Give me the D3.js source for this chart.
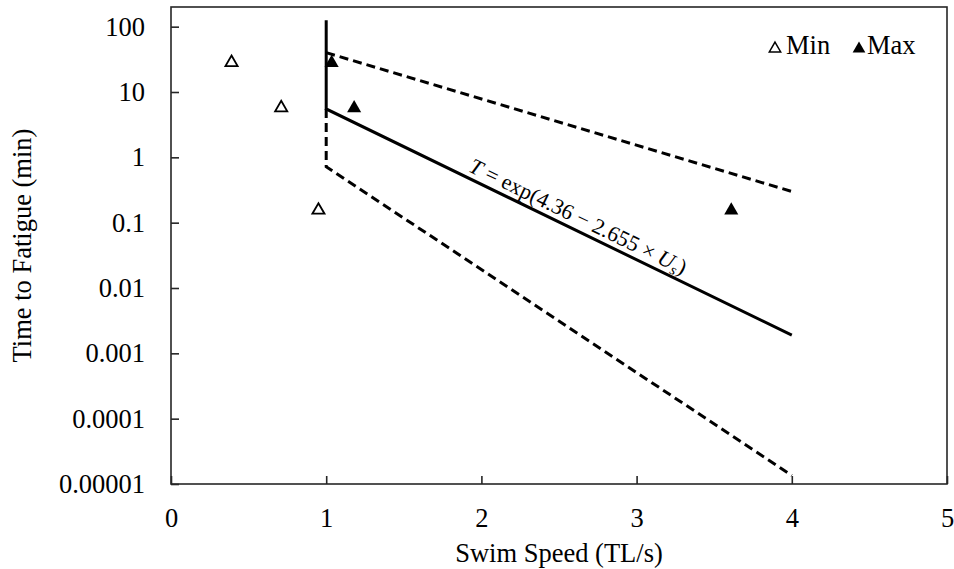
<!DOCTYPE html>
<html>
<head>
<meta charset="utf-8">
<script src="https://cdn.jsdelivr.net/npm/d3@7/dist/d3.min.js"></script>
<style>
  html, body { margin: 0; padding: 0; background: #fff; }
  svg { display: block; }
  text { font-family: "Liberation Serif", "Times New Roman", serif; fill: #000; }
</style>
</head>
<body>
<svg id="chart" width="954" height="569"></svg>
<script>
// ---- data ----
const minSpeed = [0.39, 0.71, 0.95];
const minTime  = [30, 6.1, 0.165];
const maxSpeed = [1.035, 1.18, 3.61];
const maxTime  = [30, 6.1, 0.165];

// fitted curve T = exp(4.36 - 2.655 Us), with vertical segment at Us = 1
const fitSpeed = [1, 1, 4];
const fitTime  = [125, 5.5, 0.0019];
// upper confidence bound
const upperSpeed = [1, 4];
const upperTime  = [40, 0.3];
// lower confidence bound
const lowerSpeed = [1, 1, 4];
const lowerTime  = [5.5, 0.72, 1.35e-5];

const xTicks = [0, 1, 2, 3, 4, 5];
const yTicks = [1e-5, 1e-4, 1e-3, 1e-2, 1e-1, 1, 10, 100];
const yTickLabels = ["0.00001", "0.0001", "0.001", "0.01", "0.1", "1", "10", "100"];

// ---- layout ----
const svg = d3.select("#chart");
const L = 171, R = 947, T = 7, B = 484;
const x = d3.scaleLinear().domain([0, 5]).range([L, R]);
const y = d3.scaleLog().domain([1e-5, 200]).range([B, T]);

const fontSize = 26.5;

// frame
svg.append("rect")
  .attr("x", L).attr("y", T).attr("width", R - L).attr("height", B - T)
  .attr("fill", "none").attr("stroke", "#262626").attr("stroke-width", 1.6);

// axes
const xAxis = d3.axisBottom(x).tickValues(xTicks).tickFormat(d3.format("d"))
  .tickSizeInner(-8).tickSizeOuter(0).tickPadding(24);
const gx = svg.append("g").attr("transform", `translate(0,${B})`).call(xAxis);
gx.select(".domain").remove();
gx.selectAll(".tick line").attr("stroke", "#262626").attr("stroke-width", 1.6);
gx.selectAll(".tick text").attr("font-size", fontSize)
  .attr("font-family", "Liberation Serif").attr("fill", "#000");

const yAxis = d3.axisLeft(y).tickValues(yTicks)
  .tickFormat((d, i) => yTickLabels[i])
  .tickSizeInner(-8).tickSizeOuter(0).tickPadding(26);
const gy = svg.append("g").attr("transform", `translate(${L},0)`).call(yAxis);
gy.select(".domain").remove();
gy.selectAll(".tick line").attr("stroke", "#262626").attr("stroke-width", 1.6);
gy.selectAll(".tick text").attr("font-size", fontSize)
  .attr("font-family", "Liberation Serif").attr("fill", "#000");

// axis titles
svg.append("text")
  .attr("x", (L + R) / 2).attr("y", 562)
  .attr("text-anchor", "middle").attr("font-size", fontSize)
  .text("Swim Speed (TL/s)");
svg.append("text")
  .attr("transform", `translate(31,${(T + B) / 2}) rotate(-90)`)
  .attr("text-anchor", "middle").attr("font-size", fontSize)
  .text("Time to Fatigue (min)");

// lines
const line = d3.line().x(d => x(d[0])).y(d => y(d[1]));
const zip = (a, b) => a.map((v, i) => [v, b[i]]);

svg.append("path").datum(zip(fitSpeed, fitTime))
  .attr("d", line).attr("fill", "none").attr("stroke", "#000")
  .attr("stroke-width", 3).attr("stroke-linejoin", "miter");
svg.append("path").datum(zip(upperSpeed, upperTime))
  .attr("d", line).attr("fill", "none").attr("stroke", "#000")
  .attr("stroke-width", 3).attr("stroke-dasharray", "9,5");
svg.append("path").datum(zip(lowerSpeed, lowerTime))
  .attr("d", line).attr("fill", "none").attr("stroke", "#000")
  .attr("stroke-width", 3).attr("stroke-dasharray", "9,5");

// markers
function tri(size) {
  const r = Math.sqrt(size / (3 * Math.sqrt(3)));
  return { path: d3.symbol().type(d3.symbolTriangle).size(size)(), off: r / 2 };
}
const openTri = tri(64);
const fillTri = tri(86);

svg.append("g").selectAll("path").data(zip(minSpeed, minTime)).join("path")
  .attr("d", openTri.path)
  .attr("transform", d => `translate(${x(d[0])},${y(d[1]) + openTri.off})`)
  .attr("fill", "#fff").attr("stroke", "#000").attr("stroke-width", 1.8);
svg.append("g").selectAll("path").data(zip(maxSpeed, maxTime)).join("path")
  .attr("d", fillTri.path)
  .attr("transform", d => `translate(${x(d[0])},${y(d[1]) + fillTri.off})`)
  .attr("fill", "#000");

// equation label along the fitted line
const p0 = [x(fitSpeed[1]), y(fitTime[1])];
const p1 = [x(fitSpeed[2]), y(fitTime[2])];
const ang = Math.atan2(p1[1] - p0[1], p1[0] - p0[0]) * 180 / Math.PI;
const t0 = (465 - p0[0]) / (p1[0] - p0[0]);
const sx = p0[0] + t0 * (p1[0] - p0[0]);
const sy = p0[1] + t0 * (p1[1] - p0[1]);
const eq = svg.append("text")
  .attr("transform", `translate(${sx},${sy}) rotate(${ang})`)
  .attr("y", -6).attr("font-size", 22)
  .attr("font-family", "Liberation Serif");
eq.append("tspan").attr("font-style", "italic").text("T");
eq.append("tspan").text(" = exp(4.36 − 2.655 × ");
eq.append("tspan").attr("font-style", "italic").text("U");
eq.append("tspan").attr("font-style", "italic").attr("font-size", 15).attr("dy", 4).text("s");
eq.append("tspan").attr("dy", -4).text(")");

// legend
const lgOpen = tri(56), lgFill = tri(70);
const lg = svg.append("g");
lg.append("path").attr("d", lgOpen.path)
  .attr("transform", `translate(775,${47 + lgOpen.off})`)
  .attr("fill", "#fff").attr("stroke", "#000").attr("stroke-width", 1.5);
lg.append("text").attr("x", 786).attr("y", 54).attr("font-size", fontSize).text("Min");
lg.append("path").attr("d", lgFill.path)
  .attr("transform", `translate(859,${47 + lgFill.off})`)
  .attr("fill", "#000");
lg.append("text").attr("x", 867).attr("y", 54).attr("font-size", fontSize).text("Max");
</script>
</body>
</html>
